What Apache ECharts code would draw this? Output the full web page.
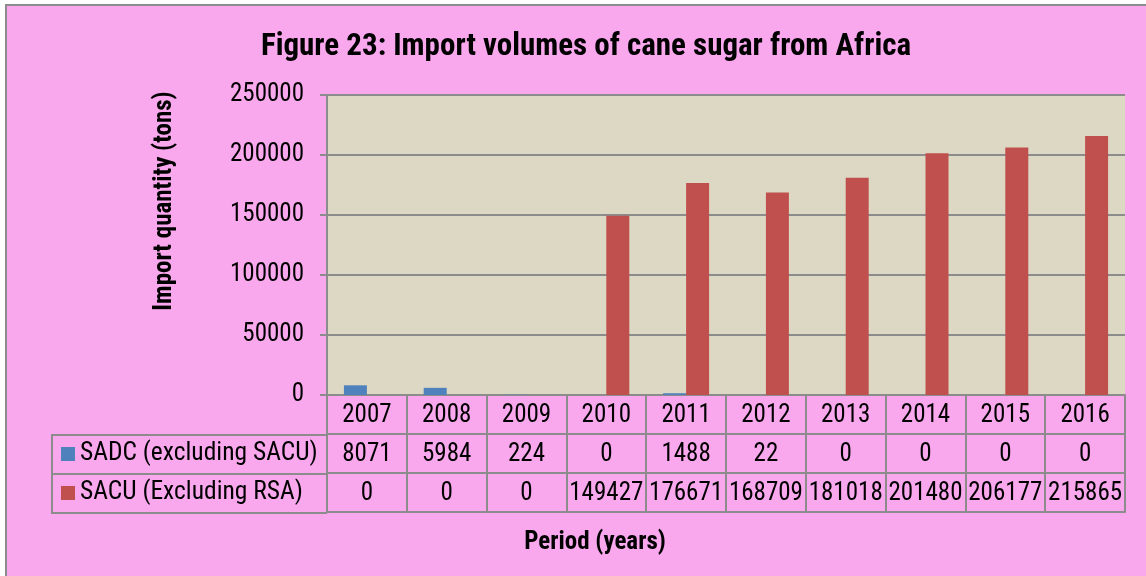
<!DOCTYPE html>
<html>
<head>
<meta charset="utf-8">
<script src="https://cdn.jsdelivr.net/npm/echarts@6/dist/echarts.min.js"></script>
<style>
html, body { margin: 0; padding: 0; background: #ffffff; }
#main { width: 1146px; height: 576px; }
</style>
</head>
<body>
<div id="main"></div>
<script>
// data
var years = ['2007', '2008', '2009', '2010', '2011', '2012', '2013', '2014', '2015', '2016'];
var sadc = [8071, 5984, 224, 0, 1488, 22, 0, 0, 0, 0];
var sacu = [0, 0, 0, 149427, 176671, 168709, 181018, 201480, 206177, 215865];
var seriesNames = ['SADC (excluding SACU)', 'SACU (Excluding RSA)'];
var yMin = 0, yMax = 250000, yStep = 50000;

var colors = ['#4f81bd', '#c0504d'];
var narrow = "'Liberation Sans Narrow', 'Arial Narrow', 'Roboto Condensed', sans-serif";
var lineColor = '#8c8c8c';

// one x axis per table row, stacked below the plot with offset
function tableAxis(data, offset, showLabel) {
    return {
        type: 'category',
        data: data,
        position: 'bottom',
        offset: offset,
        axisLine: { show: true, lineStyle: { color: lineColor, width: 2 } },
        axisTick: { show: showLabel, interval: 0, length: 39, lineStyle: { color: lineColor, width: 2 } },
        axisLabel: {
            show: showLabel,
            interval: 0,
            margin: 8,
            color: '#000',
            fontFamily: narrow,
            fontSize: 25
        },
        splitLine: { show: false }
    };
}

var chart = echarts.init(document.getElementById('main'));
var option = {
    backgroundColor: '#ffffff',
    animation: false,
    title: [
        {
            text: 'Figure 23: Import volumes of cane sugar from Africa',
            left: 581,
            top: 27,
            textAlign: 'center',
            textStyle: { color: '#000', fontFamily: narrow, fontSize: 31, fontWeight: 'bold' }
        },
        {
            text: 'Period (years)',
            left: 590,
            top: 525,
            textAlign: 'center',
            textStyle: { color: '#000', fontFamily: narrow, fontSize: 25, fontWeight: 'bold' }
        }
    ],
    graphic: [
        {
            type: 'rect', z: -10, silent: true,
            shape: { x: 6, y: 5, width: 1150, height: 580 },
            style: { fill: '#f9a8ee', stroke: lineColor, lineWidth: 2 }
        },
        {
            type: 'polyline', silent: true,
            shape: { points: [[327, 435], [52, 435], [52, 513], [327, 513]] },
            style: { fill: null, stroke: lineColor, lineWidth: 2 }
        },
        {
            type: 'line', silent: true,
            shape: { x1: 52, y1: 474, x2: 327, y2: 474 },
            style: { stroke: lineColor, lineWidth: 2 }
        },
        {
            type: 'rect', silent: true,
            shape: { x: 61, y: 447, width: 14, height: 14 },
            style: { fill: colors[0] }
        },
        {
            type: 'rect', silent: true,
            shape: { x: 61, y: 486, width: 14, height: 14 },
            style: { fill: colors[1] }
        },
        {
            type: 'text', silent: true, x: 80, y: 454,
            style: { text: seriesNames[0], fill: '#000', font: '25.5px ' + narrow, textVerticalAlign: 'middle' }
        },
        {
            type: 'text', silent: true, x: 80, y: 493,
            style: { text: seriesNames[1], fill: '#000', font: '25.5px ' + narrow, textVerticalAlign: 'middle' }
        },
        {
            type: 'text', silent: true, x: 165, y: 201, rotation: Math.PI / 2,
            style: {
                text: 'Import quantity (tons)', fill: '#000',
                font: 'bold 25px ' + narrow, textAlign: 'center', textVerticalAlign: 'middle'
            }
        }
    ],
    grid: {
        left: 327,
        right: 21,
        top: 95,
        bottom: 181,
        show: true,
        backgroundColor: '#ddd8c3',
        borderWidth: 0
    },
    xAxis: [
        tableAxis(years, 0, true),
        tableAxis(sadc.map(String), 39, true),
        tableAxis(sacu.map(String), 78, true),
        tableAxis(years, 117, false)
    ],
    yAxis: {
        type: 'value',
        min: yMin,
        max: yMax,
        interval: yStep,
        axisLine: { show: true, lineStyle: { color: lineColor, width: 2 } },
        axisTick: { show: true, length: 7, lineStyle: { color: lineColor, width: 2 } },
        axisLabel: {
            color: '#000', fontFamily: narrow, fontSize: 25, margin: 23,
            formatter: function (v) { return String(v); }
        },
        splitLine: { show: true, lineStyle: { color: lineColor, width: 2 } }
    },
    series: [
        {
            name: seriesNames[0],
            type: 'bar',
            xAxisIndex: 0,
            data: sadc,
            barWidth: 23,
            barGap: '0%',
            itemStyle: { color: colors[0] }
        },
        {
            name: seriesNames[1],
            type: 'bar',
            xAxisIndex: 0,
            data: sacu,
            barWidth: 23,
            barGap: '0%',
            itemStyle: { color: colors[1] }
        }
    ]
};
chart.setOption(option);
</script>
</body>
</html>
